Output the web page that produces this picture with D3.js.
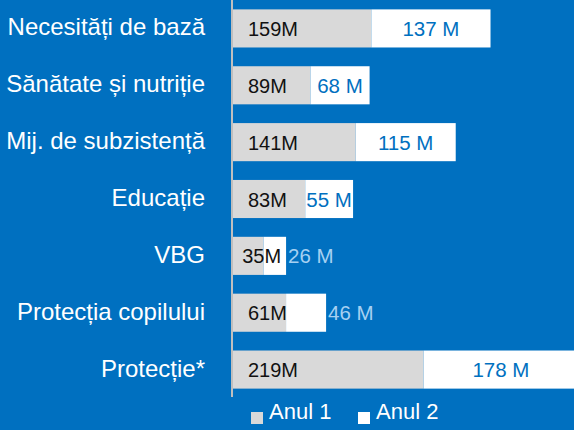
<!DOCTYPE html>
<html>
<head>
<meta charset="utf-8">
<script src="https://cdn.jsdelivr.net/npm/d3@7"></script>
<style>
  html, body { margin: 0; padding: 0; background: #0070C0; }
  svg { display: block; }
  text { font-family: "Liberation Sans", Arial, sans-serif; }
</style>
</head>
<body>
<svg id="chart" width="574" height="430"></svg>
<script>
const categories = ["Necesități de bază", "Sănătate și nutriție", "Mij. de subzistență", "Educație", "VBG", "Protecția copilului", "Protecție*"];
const year1 = [159, 89, 141, 83, 35, 61, 219];
const year2 = [137, 68, 115, 55, 26, 46, 178];
const seriesNames = ["Anul 1", "Anul 2"];

const W = 574, H = 430;
const svg = d3.select("#chart");
svg.append("rect").attr("width", W).attr("height", H).attr("fill", "#0070C0");

const axisX = 233;
const x = d3.scaleLinear().domain([0, 400]).range([axisX, axisX + 348]);
const y = d3.scaleBand().domain(categories).range([0, 398]).paddingInner(0.33).paddingOuter(0.165);

const data = categories.map((c, i) => ({ c, a: year1[i], b: year2[i] }));

// bars
const g = svg.append("g");
g.selectAll("rect.y1").data(data).join("rect")
  .attr("x", x(0)).attr("y", d => y(d.c))
  .attr("width", d => x(d.a) - x(0)).attr("height", y.bandwidth())
  .attr("fill", "#D9D9D9");
g.selectAll("rect.y2").data(data).join("rect")
  .attr("x", d => x(d.a)).attr("y", d => y(d.c))
  .attr("width", d => x(d.a + d.b) - x(d.a)).attr("height", y.bandwidth())
  .attr("fill", "#FFFFFF");

// axis line
svg.append("line").attr("x1", axisX - 1).attr("x2", axisX - 1)
  .attr("y1", 0).attr("y2", 397)
  .attr("stroke", "#BFBFBF").attr("stroke-width", 2);

// category labels
svg.selectAll("text.cat").data(data).join("text")
  .attr("class", "cat")
  .attr("x", 205).attr("y", d => y(d.c) + y.bandwidth() / 2 + 7)
  .attr("text-anchor", "end").attr("fill", "#FFFFFF")
  .attr("font-size", 24)
  .text(d => d.c);

// year 1 labels
const l1 = svg.selectAll("text.l1").data(data).join("text")
  .attr("class", "l1")
  .attr("y", d => y(d.c) + y.bandwidth() / 2 + 7.5)
  .attr("fill", "#111111").attr("font-size", 20)
  .text(d => d.a + "M");
l1.each(function(d) {
  const w = this.getComputedTextLength();
  const end = x(d.a + d.b);
  d3.select(this).attr("x", Math.max(axisX + 3, Math.min(axisX + 15, end - w - 5)));
});

// year 2 labels
const l2 = svg.selectAll("text.l2").data(data).join("text")
  .attr("class", "l2")
  .attr("y", d => y(d.c) + y.bandwidth() / 2 + 7.5)
  .attr("font-size", 20.5)
  .text(d => d.b + " M");
l2.each(function(d) {
  const w = this.getComputedTextLength();
  const s = x(d.a), e = x(d.a + d.b);
  const sel = d3.select(this);
  if (w <= e - s) {
    sel.attr("x", (s + e) / 2).attr("text-anchor", "middle").attr("fill", "#0070C0");
  } else {
    sel.attr("x", e + 2).attr("text-anchor", "start").attr("fill", "#A6D0F2");
  }
});

// legend
const legendX = [251, 358];
const legendColors = ["#D9D9D9", "#FFFFFF"];
const lg = svg.selectAll("g.leg").data(seriesNames).join("g")
  .attr("class", "leg")
  .attr("transform", (d, i) => `translate(${legendX[i]},412)`);
lg.append("rect").attr("width", 12).attr("height", 12)
  .attr("fill", (d, i) => legendColors[i]);
lg.append("text").attr("x", 18).attr("y", 7)
  .attr("fill", "#FFFFFF").attr("font-size", 22)
  .text(d => d);
</script>
</body>
</html>
